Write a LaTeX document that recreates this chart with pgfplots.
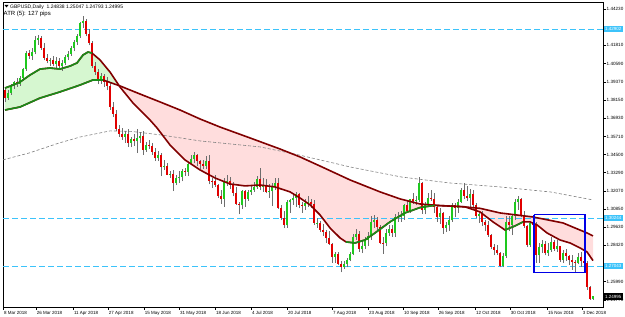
\documentclass[border=0pt]{standalone}
\usepackage{fontspec}
\setmainfont{Liberation Sans}
\usepackage{pgfplots}
\pgfplotsset{compat=1.18}
\usepackage{pgfplotstable}
\usepgfplotslibrary{fillbetween}

\definecolor{upc}{RGB}{30,200,30}
\definecolor{dnc}{RGB}{225,0,0}
\definecolor{wick}{RGB}{110,110,110}
\definecolor{mared}{RGB}{128,0,0}
\definecolor{magreen}{RGB}{25,140,25}
\definecolor{pinkfill}{RGB}{255,221,221}
\definecolor{greenfill}{RGB}{214,247,208}
\definecolor{lvl}{RGB}{60,195,250}
\definecolor{boxblue}{RGB}{0,0,230}

\pgfplotstableread{
i o h l c
0 1.3880 1.3900 1.3800 1.3830
1 1.3830 1.3880 1.3815 1.3865
2 1.3865 1.3925 1.3850 1.3910
3 1.3910 1.3945 1.3890 1.3935
4 1.3935 1.3960 1.3905 1.3925
5 1.3925 1.3975 1.3910 1.3960
6 1.3960 1.4030 1.3950 1.4020
7 1.4020 1.4140 1.4010 1.4130
8 1.4130 1.4150 1.4090 1.4110
9 1.4110 1.4160 1.4085 1.4135
10 1.4135 1.4240 1.4120 1.4215
11 1.4215 1.4250 1.4185 1.4230
12 1.4230 1.4245 1.4150 1.4165
13 1.4165 1.4195 1.4080 1.4095
14 1.4095 1.4120 1.4060 1.4075
15 1.4075 1.4095 1.4040 1.4085
16 1.4085 1.4110 1.4040 1.4055
17 1.4055 1.4100 1.4030 1.4075
18 1.4075 1.4095 1.4020 1.4040
19 1.4040 1.4080 1.4010 1.4060
20 1.4060 1.4115 1.4050 1.4100
21 1.4100 1.4140 1.4080 1.4125
22 1.4125 1.4175 1.4110 1.4160
23 1.4160 1.4215 1.4140 1.4200
24 1.4200 1.4255 1.4185 1.4240
25 1.4240 1.4340 1.4230 1.4330
26 1.4330 1.4377 1.4300 1.4345
27 1.4345 1.4360 1.4240 1.4260
28 1.4260 1.4290 1.4180 1.4195
29 1.4195 1.4210 1.4030 1.4040
30 1.4040 1.4070 1.3985 1.4000
31 1.4000 1.4020 1.3920 1.3950
32 1.3950 1.3995 1.3925 1.3975
33 1.3975 1.3990 1.3905 1.3935
34 1.3935 1.3970 1.3880 1.3910
35 1.3910 1.3930 1.3750 1.3770
36 1.3770 1.3800 1.3700 1.3720
37 1.3720 1.3745 1.3605 1.3620
38 1.3620 1.3650 1.3570 1.3585
39 1.3585 1.3625 1.3550 1.3570
40 1.3570 1.3610 1.3530 1.3585
41 1.3585 1.3620 1.3500 1.3530
42 1.3530 1.3570 1.3500 1.3555
43 1.3555 1.3590 1.3510 1.3540
44 1.3540 1.3620 1.3460 1.3560
45 1.3560 1.3600 1.3530 1.3575
46 1.3575 1.3610 1.3450 1.3480
47 1.3480 1.3535 1.3470 1.3515
48 1.3515 1.3545 1.3490 1.3505
49 1.3505 1.3525 1.3450 1.3465
50 1.3465 1.3495 1.3405 1.3430
51 1.3430 1.3475 1.3405 1.3450
52 1.3450 1.3460 1.3305 1.3365
53 1.3365 1.3410 1.3345 1.3375
54 1.3375 1.3395 1.3310 1.3315
55 1.3315 1.3340 1.3295 1.3320
56 1.3320 1.3345 1.3205 1.3260
57 1.3260 1.3310 1.3245 1.3295
58 1.3295 1.3340 1.3260 1.3300
59 1.3300 1.3350 1.3270 1.3340
60 1.3340 1.3360 1.3305 1.3335
61 1.3335 1.3395 1.3305 1.3385
62 1.3385 1.3450 1.3380 1.3420
63 1.3420 1.3470 1.3390 1.3450
64 1.3450 1.3455 1.3370 1.3405
65 1.3405 1.3410 1.3355 1.3385
66 1.3385 1.3415 1.3350 1.3375
67 1.3375 1.3440 1.3350 1.3405
68 1.3405 1.3445 1.3250 1.3275
69 1.3275 1.3295 1.3225 1.3270
70 1.3270 1.3310 1.3235 1.3245
71 1.3245 1.3255 1.3160 1.3170
72 1.3170 1.3210 1.3120 1.3155
73 1.3155 1.3290 1.3100 1.3265
74 1.3265 1.3315 1.3240 1.3270
75 1.3270 1.3300 1.3220 1.3245
76 1.3245 1.3265 1.3170 1.3195
77 1.3195 1.3230 1.3115 1.3120
78 1.3120 1.3135 1.3050 1.3110
79 1.3110 1.3215 1.3085 1.3205
80 1.3205 1.3215 1.3100 1.3155
81 1.3155 1.3215 1.3140 1.3200
82 1.3200 1.3240 1.3180 1.3215
83 1.3215 1.3265 1.3200 1.3230
84 1.3230 1.3305 1.3220 1.3285
85 1.3285 1.3360 1.3210 1.3235
86 1.3235 1.3290 1.3200 1.3245
87 1.3245 1.3285 1.3190 1.3200
88 1.3200 1.3250 1.3160 1.3205
89 1.3205 1.3260 1.3105 1.3235
90 1.3235 1.3290 1.3215 1.3260
91 1.3260 1.3290 1.3085 1.3095
92 1.3095 1.3110 1.3010 1.3025
93 1.3025 1.3075 1.2955 1.2975
94 1.2975 1.3145 1.2960 1.3130
95 1.3130 1.3150 1.3060 1.3145
96 1.3145 1.3190 1.3115 1.3160
97 1.3160 1.3200 1.3100 1.3185
98 1.3185 1.3190 1.3090 1.3110
99 1.3110 1.3130 1.3060 1.3105
100 1.3105 1.3150 1.3080 1.3125
101 1.3125 1.3170 1.3100 1.3130
102 1.3130 1.3150 1.3095 1.3120
103 1.3120 1.3145 1.2980 1.2990
104 1.2990 1.3025 1.2960 1.2995
105 1.2995 1.3005 1.2930 1.2945
106 1.2945 1.2985 1.2905 1.2930
107 1.2930 1.2945 1.2860 1.2890
108 1.2890 1.2935 1.2845 1.2850
109 1.2850 1.2860 1.2725 1.2765
110 1.2765 1.2795 1.2725 1.2785
111 1.2785 1.2800 1.2710 1.2720
112 1.2720 1.2740 1.2662 1.2700
113 1.2700 1.2740 1.2685 1.2715
114 1.2715 1.2755 1.2695 1.2745
115 1.2745 1.2795 1.2735 1.2785
116 1.2785 1.2920 1.2780 1.2900
117 1.2900 1.2950 1.2880 1.2915
118 1.2915 1.2935 1.2800 1.2815
119 1.2815 1.2870 1.2790 1.2840
120 1.2840 1.2895 1.2820 1.2880
121 1.2880 1.2930 1.2840 1.2905
122 1.2905 1.3040 1.2880 1.3000
123 1.3000 1.3045 1.2960 1.3010
124 1.3010 1.3030 1.2945 1.2965
125 1.2965 1.2975 1.2850 1.2860
126 1.2860 1.2895 1.2785 1.2855
127 1.2855 1.2950 1.2835 1.2925
128 1.2925 1.2980 1.2905 1.2950
129 1.2950 1.2975 1.2900 1.2925
130 1.2925 1.3050 1.2900 1.3035
131 1.3035 1.3065 1.3000 1.3030
132 1.3030 1.3070 1.3000 1.3040
133 1.3040 1.3120 1.3015 1.3110
134 1.3110 1.3145 1.3060 1.3075
135 1.3075 1.3155 1.3060 1.3150
136 1.3150 1.3190 1.3120 1.3140
137 1.3140 1.3170 1.3110 1.3145
138 1.3145 1.3298 1.3130 1.3260
139 1.3260 1.3265 1.3055 1.3080
140 1.3080 1.3135 1.3050 1.3120
141 1.3120 1.3190 1.3105 1.3160
142 1.3160 1.3210 1.3140 1.3150
143 1.3150 1.3190 1.3060 1.3100
144 1.3100 1.3115 1.3000 1.3030
145 1.3030 1.3095 1.2985 1.3060
146 1.3060 1.3065 1.2920 1.2960
147 1.2960 1.3000 1.2930 1.2975
148 1.2975 1.3040 1.2940 1.3010
149 1.3010 1.3125 1.3000 1.3115
150 1.3115 1.3125 1.3030 1.3095
151 1.3095 1.3150 1.3060 1.3135
152 1.3135 1.3225 1.3125 1.3215
153 1.3215 1.3257 1.3150 1.3170
154 1.3170 1.3240 1.3140 1.3160
155 1.3160 1.3220 1.3100 1.3185
156 1.3185 1.3215 1.3090 1.3110
157 1.3110 1.3125 1.3025 1.3040
158 1.3040 1.3070 1.2990 1.3050
159 1.3050 1.3070 1.2970 1.3000
160 1.3000 1.3015 1.2935 1.2980
161 1.2980 1.3005 1.2900 1.2910
162 1.2910 1.2920 1.2815 1.2830
163 1.2830 1.2850 1.2775 1.2810
164 1.2810 1.2845 1.2780 1.2790
165 1.2790 1.2800 1.2695 1.2705
166 1.2705 1.2790 1.2695 1.2770
167 1.2770 1.3040 1.2760 1.3000
168 1.3000 1.3040 1.2935 1.2975
169 1.2975 1.3050 1.2910 1.3040
170 1.3040 1.3150 1.3015 1.3130
171 1.3130 1.3175 1.3080 1.3150
172 1.3150 1.3160 1.3030 1.3045
173 1.3045 1.3070 1.2960 1.2970
174 1.2970 1.2980 1.2830 1.2845
175 1.2845 1.3000 1.2830 1.2990
176 1.2990 1.3010 1.2940 1.2975
177 1.2975 1.3000 1.2725 1.2775
178 1.2775 1.2860 1.2725 1.2830
179 1.2830 1.2875 1.2790 1.2850
180 1.2850 1.2870 1.2775 1.2790
181 1.2790 1.2860 1.2770 1.2810
182 1.2810 1.2900 1.2800 1.2865
183 1.2865 1.2875 1.2805 1.2815
184 1.2815 1.2875 1.2800 1.2835
185 1.2835 1.2840 1.2730 1.2745
186 1.2745 1.2810 1.2725 1.2790
187 1.2790 1.2815 1.2740 1.2770
188 1.2770 1.2780 1.2710 1.2745
189 1.2745 1.2780 1.2680 1.2730
190 1.2730 1.2745 1.2660 1.2725
191 1.2725 1.2790 1.2715 1.2765
192 1.2765 1.2800 1.2700 1.2740
193 1.2740 1.2790 1.2715 1.2725
194 1.2725 1.2740 1.2545 1.2560
195 1.2560 1.2570 1.2477 1.2484
196 1.2484 1.2505 1.2479 1.2500
}\candles

\pgfplotstableread{
i p
0 1.3895
2.67 1.3915
5 1.3935
8.33 1.3982
11.67 1.4022
15 1.4029
18.33 1.4022
21.67 1.4042
24 1.4063
26 1.4116
27.67 1.4136
29 1.4129
31.67 1.4083
35 1.4002
38.33 1.3902
42.67 1.3795
48.33 1.3681
50.67 1.3628
55 1.3514
60 1.3414
65 1.3347
70 1.3293
75 1.3253
80 1.3240
85 1.3246
90 1.3233
95 1.3200
98.33 1.3159
101.67 1.3113
105 1.3046
108.33 1.2959
111.67 1.2892
113.67 1.2865
116.67 1.2858
120 1.2878
123.33 1.2925
128.33 1.2999
133.33 1.3059
138.33 1.3095
143.33 1.3110
148.33 1.3105
153.33 1.3100
158.33 1.3066
162.67 1.2999
166.67 1.2945
170 1.2972
172.67 1.2999
175 1.2999
177.33 1.2979
180.67 1.2925
185 1.2878
188.33 1.2858
191.67 1.2825
194 1.2798
196 1.2740
}\fastma

\pgfplotstableread{
i p
0 1.3748
5 1.3768
11.67 1.3828
18.33 1.3869
25 1.3915
29.33 1.3949
32.67 1.3949
38.33 1.3909
45 1.3855
51.67 1.3802
58.33 1.3748
65 1.3688
71.67 1.3634
81.67 1.3561
91.67 1.3487
98.33 1.3434
105 1.3373
115 1.3280
125 1.3200
131.67 1.3153
138.33 1.3119
145 1.3108
151.67 1.3102
158.33 1.3090
165 1.3059
176 1.3032
186 1.2992
194 1.2925
196 1.2905
}\slowma

\pgfplotstableread{
i p
-0.7 1.3414
8 1.3460
18 1.3527
25 1.3567
35 1.3608
42 1.3605
52 1.3581
65 1.3541
85 1.3501
98 1.3447
115 1.3367
132 1.3300
148 1.3260
165 1.3233
182 1.3199
196 1.3146
}\grayma

\begin{document}
\begin{tikzpicture}
\begin{axis}[
  scale only axis, width=600pt, height=305pt,
  xmin=-0.667, xmax=199.333, ymin=1.24295, ymax=1.44709,
  axis line style={black, line width=0.5pt},
  tick align=outside, xtick pos=bottom, ytick pos=right, yticklabel pos=right,
  major tick length=3pt, tick style={black, line width=0.4pt},
  scaled y ticks=false,
  ytick={1.24770,1.25990,1.27200,1.28420,1.29630,1.30850,1.32070,1.33290,1.34500,1.35710,1.36930,1.38150,1.39370,1.40590,1.41810,1.43020,1.44230},
  yticklabels={1.24770,1.25990,{},1.28420,1.29630,1.30850,1.32070,1.33290,1.34500,1.35710,1.36930,1.38150,1.39370,1.40590,1.41810,{},1.44230},
  yticklabel style={font=\fontsize{4.6}{5}\selectfont, inner xsep=0.5pt},
  xtick={-0.6,10.33,22.67,34.33,46.33,58,70,82,94,109,121,132.67,144.33,156.67,168.33,180.67,192.33},
  xticklabels={8 Mar 2018,26 Mar 2018,11 Apr 2018,27 Apr 2018,15 May 2018,31 May 2018,18 Jun 2018,4 Jul 2018,20 Jul 2018,7 Aug 2018,23 Aug 2018,10 Sep 2018,26 Sep 2018,12 Oct 2018,30 Oct 2018,15 Nov 2018,3 Dec 2018},
  xticklabel style={anchor=north west, font=\fontsize{4.5}{5}\selectfont, inner xsep=0.8pt, inner ysep=1pt},
  clip mode=individual,
]
% moving-average cloud
\addplot[draw=none, name path=fast, forget plot] table[x=i,y=p]{\fastma};
\addplot[draw=none, name path=slow, forget plot] table[x=i,y=p]{\slowma};
\addplot[greenfill] fill between[of=fast and slow, soft clip={domain=-1:38.3}];
\addplot[pinkfill] fill between[of=fast and slow, soft clip={domain=38.3:200}];

% long moving average
\addplot[gray, line width=0.6pt, dash pattern=on 3pt off 2pt] table[x=i,y=p]{\grayma};

% horizontal levels
\addplot[lvl, line width=0.7pt, dash pattern=on 6pt off 3pt] coordinates {(-0.667,1.42902) (199.333,1.42902)};
\addplot[lvl, line width=0.7pt, dash pattern=on 6pt off 3pt] coordinates {(-0.667,1.30244) (199.333,1.30244)};
\addplot[lvl, line width=0.7pt, dash pattern=on 6pt off 3pt] coordinates {(-0.667,1.27043) (199.333,1.27043)};

% wicks (low to high)
\addplot[wick, line width=0.55pt, quiver={u=0, v={\thisrow{h}-\thisrow{l}}}]
  table[x=i, y=l]{\candles};
% bodies up
\addplot[upc, line width=2.1pt, quiver={u=0, v={max(\thisrow{c}-\thisrow{o},0)}}]
  table[x=i, y=o]{\candles};
% bodies down
\addplot[dnc, line width=2.1pt, quiver={u=0, v={min(\thisrow{c}-\thisrow{o},0)}}]
  table[x=i, y=o]{\candles};

% MA lines
\addplot[mared, line width=1.6pt] table[x=i,y=p]{\slowma};
\addplot[magreen, line width=1.6pt, restrict x to domain=-1:32.7] table[x=i,y=p]{\slowma};
\addplot[mared, line width=1.6pt] table[x=i,y=p]{\fastma};
\addplot[magreen, line width=1.6pt, restrict x to domain=-1:29.1] table[x=i,y=p]{\fastma};
\addplot[magreen, line width=1.6pt, restrict x to domain=113.6:143.4] table[x=i,y=p]{\fastma};
\addplot[magreen, line width=1.6pt, restrict x to domain=166.6:172.7] table[x=i,y=p]{\fastma};

% selection box
\addplot[boxblue, line width=1.2pt] coordinates {(176.3,1.3046) (193.3,1.3046) (193.3,1.2658) (176.3,1.2658) (176.3,1.3046)};

\coordinate (L1) at (axis cs:0,1.42902);
\coordinate (L2) at (axis cs:0,1.30244);
\coordinate (L3) at (axis cs:0,1.27043);
\coordinate (L4) at (axis cs:0,1.24995);
\end{axis}

\begin{scope}[every node/.style={anchor=west, inner xsep=1pt, inner ysep=0.8pt, minimum height=6.5pt, minimum width=19pt, font=\fontsize{4.5}{5}\selectfont}]
\node[fill=lvl, text=white] at ([xshift=0.5pt]current axis.east |- L1) {1.42902};
\node[fill=lvl, text=white] at ([xshift=0.5pt]current axis.east |- L2) {1.30244};
\node[fill=lvl, text=white] at ([xshift=0.5pt]current axis.east |- L3) {1.27043};
\node[fill=black, text=white] at ([xshift=0.5pt]current axis.east |- L4) {1.24995};
\end{scope}

\fill ([shift={(1.5pt,-3pt)}]current axis.north west) -- ++(4pt,0) -- ++(-2pt,-2.5pt) -- cycle;
\node[anchor=base west, inner sep=0pt, font=\fontsize{5}{6}\selectfont] at ([shift={(7pt,-6.5pt)}]current axis.north west) {GBPUSD,Daily\ \ 1.24838 1.25047 1.24793 1.24995};
\node[anchor=base west, inner sep=0pt, font=\fontsize{6}{7}\selectfont] at ([shift={(0.5pt,-14pt)}]current axis.north west) {ATR (5): 127 pips};

\pgfresetboundingbox
\useasboundingbox ([shift={(-3pt,-10pt)}]current axis.south west) rectangle ([shift={(22pt,2pt)}]current axis.north east);
\end{tikzpicture}
\end{document}
